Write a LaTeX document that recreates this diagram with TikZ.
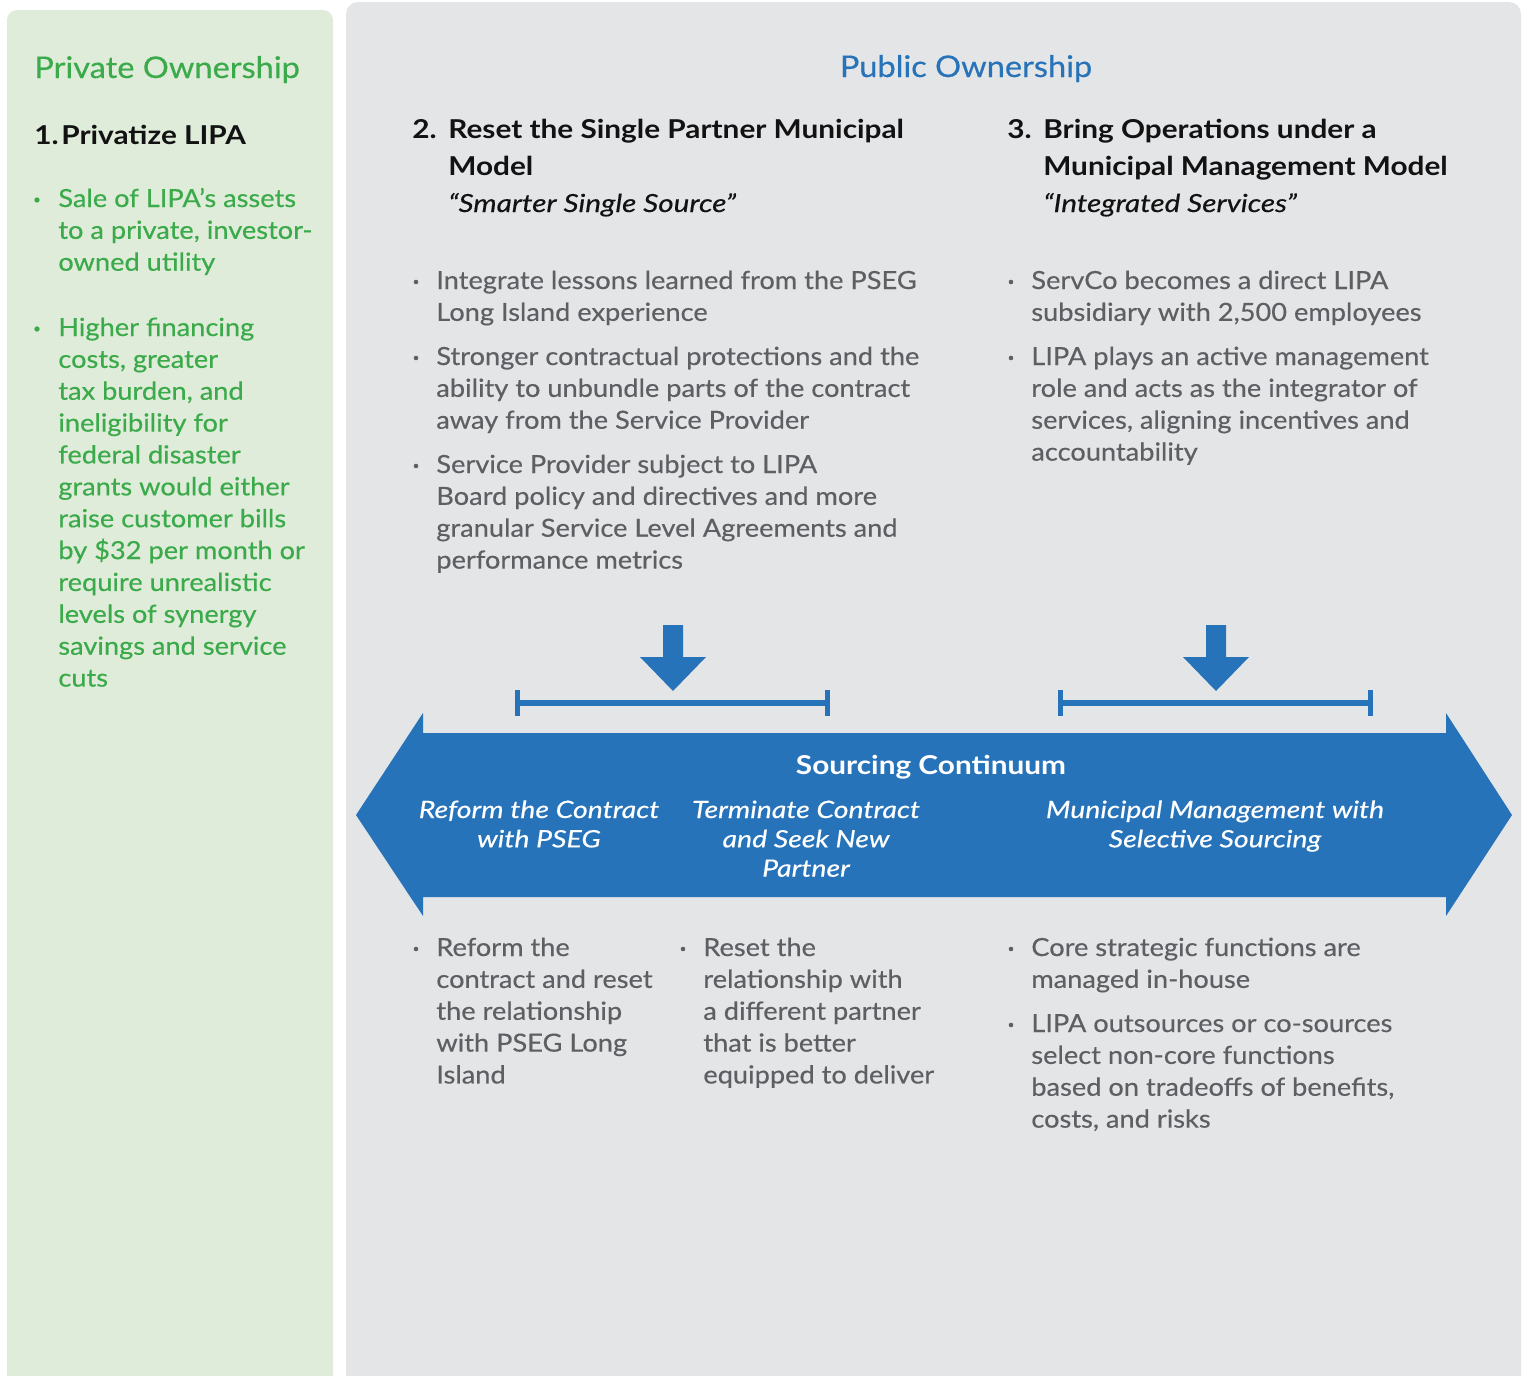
\documentclass[tikz,border=0pt]{standalone}
\usepackage{fontspec}
\setmainfont{Lato}[
  UprightFeatures={FakeStretch=1.09, FakeBold=0.4},
  BoldFeatures={FakeStretch=1.145},
  ItalicFeatures={FakeStretch=1.19, FakeBold=0.4},
  BoldItalicFeatures={FakeStretch=1.15}]
\usetikzlibrary{arrows.meta}

\definecolor{panelgreen}{HTML}{E0ECDA}
\definecolor{panelgray}{HTML}{E4E5E7}
\definecolor{textgreen}{HTML}{3BAA4A}
\definecolor{lipablue}{HTML}{2773BA}
\definecolor{bodygray}{HTML}{5E5F63}

% stacked lines, baseline on the first line
\newcommand\lft[1]{\begin{tabular}[t]{@{}l@{}}#1\end{tabular}}
\newcommand\ctr[1]{\begin{tabular}[t]{@{}c@{}}#1\end{tabular}}

\tikzset{
  txt/.style={inner sep=0, anchor=base west},
  title/.style={txt, font=\fontsize{17}{21}\selectfont},
  head/.style={txt, font=\fontsize{14.8}{21.5}\selectfont\bfseries, text=black!93},
  sub/.style={txt, font=\fontsize{14.2}{18.14}\selectfont\itshape, text=black!93},
  body/.style={txt, font=\fontsize{14.2}{18.14}\selectfont, text=bodygray},
  green body/.style={body, text=textgreen},
  band/.style={inner sep=0, anchor=base, text=white, font=\fontsize{13.6}{16.7}\selectfont\itshape},
  bracket/.style={lipablue, line width=3pt, {Bar[width=14.6pt]}-{Bar[width=14.6pt]}},
}

\begin{document}
\begin{tikzpicture}[x=0.02cm, y=-0.02cm]
\useasboundingbox (0,0) rectangle (1529,1376);

% background panels
\fill[panelgreen, rounded corners=0.2cm] (7,1400) -- (7,10) -- (333,10) -- (333,1400) -- cycle;
\fill[panelgray, rounded corners=0.24cm] (346,1400) -- (346,2) -- (1521,2) -- (1521,1400) -- cycle;

% private ownership column
\node[title, text=textgreen] (priv) at (34,78) {Private Ownership};
\node[head] (h1) at (34,144) {1.\hspace{-4pt} Privatize LIPA};
\node[green body] (p1) at (58,207) {\lft{Sale of LIPA’s assets\\to a private, investor-\\owned utility}};
\node[green body] (p2) at (58,336) {\lft{Higher financing\\costs, greater\\tax burden, and\\ineligibility for\\federal disaster\\grants would either\\raise customer bills\\by \$32 per month or\\require unrealistic\\levels of synergy\\savings and service\\cuts}};

% public ownership columns
\node[title, text=lipablue, anchor=base] (pub) at (966,77) {Public Ownership};

\node[head] (n2) at (412,138) {2.};
\node[head] (h2) at (448,138) {\lft{Reset the Single Partner Municipal\\Model}};
\node[sub] (s2) at (448,212) {“Smarter Single Source”};

\node[head] (n3) at (1007,138) {3.};
\node[head] (h3) at (1043,138) {\lft{Bring Operations under a\\Municipal Management Model}};
\node[sub] (s3) at (1043,212) {“Integrated Services”};

\node[body] (c2a) at (436,289) {\lft{Integrate lessons learned from the PSEG\\Long Island experience}};
\node[body] (c2b) at (436,365) {\lft{Stronger contractual protections and the\\ability to unbundle parts of the contract\\away from the Service Provider}};
\node[body] (c2c) at (436,473) {\lft{Service Provider subject to LIPA\\Board policy and directives and more\\granular Service Level Agreements and\\performance metrics}};

\node[body] (c3a) at (1031,289) {\lft{ServCo becomes a direct LIPA\\subsidiary with 2,500 employees}};
\node[body] (c3b) at (1031,365) {\lft{LIPA plays an active management\\role and acts as the integrator of\\services, aligning incentives and\\accountability}};

% down arrows and range brackets
\foreach \cx in {673,1216}
  \fill[lipablue, shift={(\cx,0)}] (-10,625) -- (10,625) -- (10,657) -- (33,657)
    -- (0,691) -- (-33,657) -- (-10,657) -- cycle;
\draw[bracket] (515,703) -- (830,703);
\draw[bracket] (1058,703) -- (1373,703);

% sourcing continuum band
\fill[lipablue] (356,815) -- (423,713) -- (423,733) -- (1446,733) -- (1446,713)
  -- (1512,815) -- (1446,916) -- (1446,897) -- (423,897) -- (423,916) -- cycle;
\node[band, font=\fontsize{14.8}{18}\selectfont\bfseries] (sc) at (931,774) {Sourcing Continuum};
\node[band] (reform) at (539,818) {\ctr{Reform the Contract\\with PSEG}};
\node[band] (term) at (806,818) {\ctr{Terminate Contract\\and Seek New\\Partner}};
\node[band] (muni) at (1215,818) {\ctr{Municipal Management with\\Selective Sourcing}};

% options below the band
\node[body] (b1) at (436,956) {\lft{Reform the\\contract and reset\\the relationship\\with PSEG Long\\Island}};
\node[body] (b2) at (703,956) {\lft{Reset the\\relationship with\\a different partner\\that is better\\equipped to deliver}};
\node[body] (b3a) at (1031,956) {\lft{Core strategic functions are\\managed in-house}};
\node[body] (b3b) at (1031,1032) {\lft{LIPA outsources or co-sources\\select non-core functions\\based on tradeoffs of benefits,\\costs, and risks}};

% bullet dots
\foreach \n in {p1,p2}
  \fill[textgreen] ([shift={(-21,-7)}]\n.base west) circle (1.5pt);
\foreach \n in {c2a,c2b,c2c,c3a,c3b,b1,b2,b3a,b3b}
  \fill[bodygray] ([shift={(-20,-7)}]\n.base west) circle (1.3pt);
\end{tikzpicture}
\end{document}
